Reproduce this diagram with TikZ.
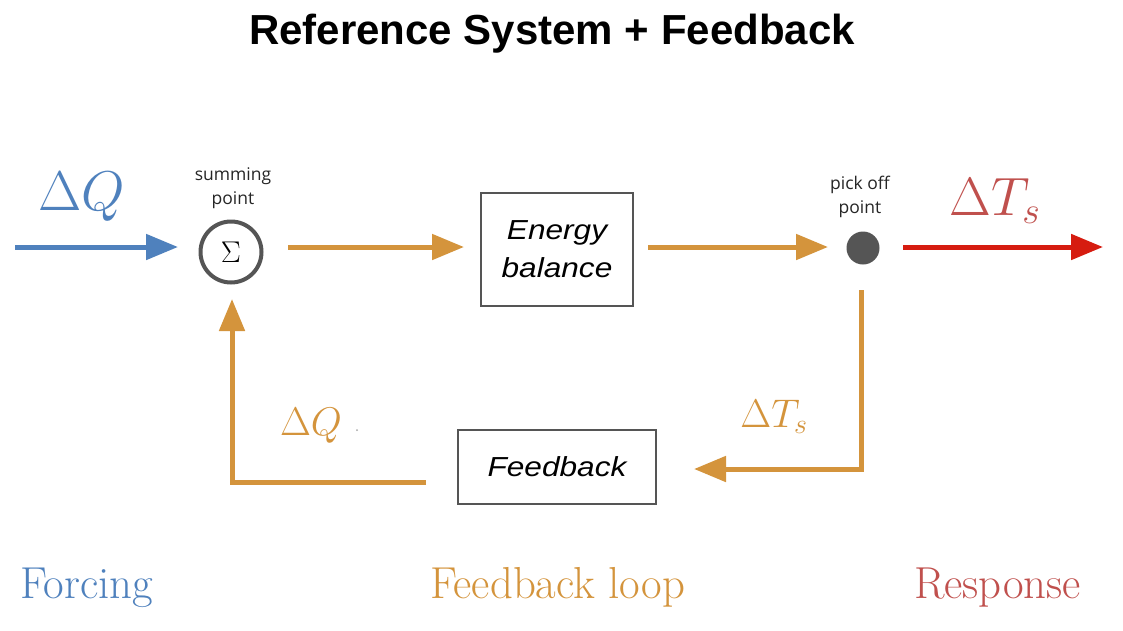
\RequirePackage{fix-cm}
\documentclass[tikz,border=0pt]{standalone}
\usepackage{fontspec}
\setsansfont{Liberation Sans}
\newfontfamily\labelfont{Open Sans}
\newfontfamily\boxfont{Liberation Sans}[FakeStretch=1.15]
\usetikzlibrary{arrows.meta}
\definecolor{fblue}{RGB}{79,129,189}
\definecolor{forange}{RGB}{212,148,60}
\definecolor{fred}{RGB}{214,28,16}
\definecolor{tred}{RGB}{192,80,77}
\definecolor{dgray}{RGB}{85,85,85}
\begin{document}
\begin{tikzpicture}[x=1pt,y=-1pt,
  conn/.style={line width=5pt,-{Triangle[length=32pt,width=25pt]}},
  blockbox/.style={draw=dgray,line width=1.2pt,fill=white,inner sep=0pt,
     font=\boxfont\itshape\fontsize{27.5}{38}\selectfont,align=center},
  smalllabel/.style={font=\labelfont\fontsize{17.5}{24}\selectfont,align=center,text=black!85},
  bottomlabel/.style={font=\fontsize{40}{44}\selectfont,xscale=1.12,yscale=1.12,inner sep=0pt}]
\useasboundingbox (0,0) rectangle (1123,630);
\fill[white] (0,0) rectangle (1123,630);
% title
\node[font=\sffamily\bfseries\fontsize{42}{48}\selectfont] (title) at (552,34) {Reference System + Feedback};
% summing point
\node[circle,draw=dgray,line width=4pt,minimum size=61pt,inner sep=0pt,font=\fontsize{30}{30}\selectfont] (sum) at (231,252) {$\Sigma$};
\node[smalllabel] (sumlab) at (233,188) {summing\\point};
% energy balance
\node[blockbox,minimum width=152pt,minimum height=113pt] (eb) at (557,249.5) {Energy\\balance};
% pick off point
\node[circle,fill=dgray,minimum size=33pt,inner sep=0pt] (pick) at (863,248) {};
\node[smalllabel] (picklab) at (860,197) {pick off\\point};
% feedback block
\node[blockbox,minimum width=198pt,minimum height=74pt] (fb) at (557,467) {Feedback};
% coordinates
\coordinate (qin) at (15,247);
\coordinate (qintip) at (178,247);
\coordinate (s1) at (288,247);
\coordinate (s1tip) at (464,247);
\coordinate (e1) at (648,247);
\coordinate (e1tip) at (828,247);
\coordinate (r1) at (903,247);
\coordinate (r1tip) at (1103,247);
\coordinate (p1) at (861,290);
\coordinate (p2) at (861,469);
\coordinate (p3tip) at (694,469);
\coordinate (f1) at (426,482);
\coordinate (f2) at (232,482);
\coordinate (f3tip) at (232,299);
% connectors
\draw[conn,draw=fblue] (qin) -- (qintip);
\draw[conn,draw=forange] (s1) -- (s1tip);
\draw[conn,draw=forange] (e1) -- (e1tip);
\draw[conn,draw=fred] (r1) -- (r1tip);
\draw[conn,draw=forange,line join=miter] (p1) -- (p2) -- (p3tip);
\draw[conn,draw=forange,line join=miter] (f1) -- (f2) -- (f3tip);
% math labels
\node[text=fblue,font=\fontsize{56}{56}\selectfont] (dq) at (82,197) {$\Delta Q$};
\node[text=tred,font=\fontsize{54}{54}\selectfont] (dts) at (995,201) {$\Delta T_s$};
\node[text=forange,font=\fontsize{40}{40}\selectfont] (dq2) at (311,426) {$\Delta Q$};
\fill[black!35] (357,430) circle (1pt);
\node[text=forange,font=\fontsize{40}{40}\selectfont] (dts2) at (774,417) {$\Delta T_s$};
% bottom labels
\node[bottomlabel,text=fblue,anchor=base west] (forcing) at (20,598) {Forcing};
\node[bottomlabel,text=forange,anchor=base west] (fbloop) at (430,598) {Feedback loop};
\node[bottomlabel,text=tred,anchor=base west] (resp) at (914,598) {Response};
\end{tikzpicture}
\end{document}
